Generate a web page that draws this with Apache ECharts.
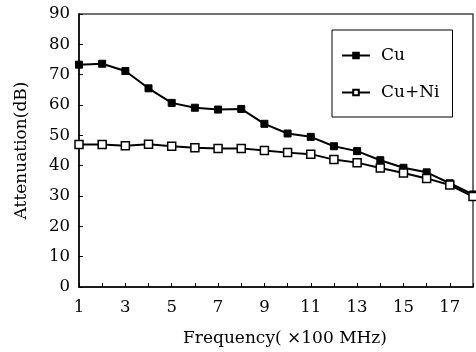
<!DOCTYPE html>
<html><head><meta charset="utf-8">
<script src="https://cdn.jsdelivr.net/npm/echarts@6/dist/echarts.min.js"></script>
<style>html,body{margin:0;padding:0;background:#fff}#c{width:476px;height:352px}</style>
</head><body><div id="c"></div>
<script>
const freq = [1,2,3,4,5,6,7,8,9,10,11,12,13,14,15,16,17,18];
const cu   = [73.3,73.6,71.2,65.5,60.7,59.1,58.5,58.7,53.8,50.6,49.5,46.4,44.8,41.8,39.3,37.8,34.2,30.5];
const cuNi = [47.0,47.0,46.6,47.1,46.4,45.9,45.7,45.7,45.0,44.3,43.8,42.0,41.0,39.2,37.6,35.8,33.6,29.8];
const xTickLabels = [1,3,5,7,9,11,13,15,17];
const seriesNames = ['Cu','Cu+Ni'];

const font = '"DejaVu Serif", "Liberation Serif", serif';
const chart = echarts.init(document.getElementById('c'), null, {renderer:'canvas'});
chart.setOption({
  animation:false,
  backgroundColor:'#fff',
  grid:{left:79, top:14, width:399.5, height:275.5, show:true, borderColor:'#444', borderWidth:1.5},
  legend:{
    orient:'vertical', left:332, top:30, padding:[17,13,16,9],
    backgroundColor:'#fff',
    borderColor:'#000', borderWidth:1, itemGap:20, itemWidth:28, itemHeight:7,
    textStyle:{fontFamily:font, fontSize:17, color:'#000', padding:[0,0,0,6]},
    data:seriesNames
  },
  xAxis:{
    type:'value', min:1, max:18, interval:1,
    name:'Frequency( ×100 MHz)', nameLocation:'middle', nameGap:43,
    nameTextStyle:{fontFamily:font, fontSize:17, color:'#000', padding:[0,0,0,18]},
    axisLine:{lineStyle:{color:'#000', width:1.5}},
    axisTick:{inside:true, length:4, lineStyle:{color:'#000'}},
    axisLabel:{fontFamily:font, fontSize:16.5, color:'#000', margin:12,
      formatter:v=> xTickLabels.indexOf(v)>=0 ? String(v) : ''},
    splitLine:{show:false}
  },
  yAxis:{
    type:'value', min:0, max:90, interval:10,
    name:'Attenuation(dB)', nameLocation:'middle', nameGap:49,
    nameTextStyle:{fontFamily:font, fontSize:17, color:'#000'},
    axisLine:{show:true, lineStyle:{color:'#000', width:1.5}},
    axisTick:{show:true, inside:true, length:4, lineStyle:{color:'#000'}},
    axisLabel:{fontFamily:font, fontSize:16.5, color:'#000', margin:9},
    splitLine:{show:false}
  },
  series:[
    {name:seriesNames[0], type:'line', data:freq.map((f,i)=>[f,cu[i]]),
     symbol:'rect', symbolSize:7, lineStyle:{color:'#000', width:2},
     itemStyle:{color:'#000', borderColor:'#000', borderWidth:1}},
    {name:seriesNames[1], type:'line', data:freq.map((f,i)=>[f,cuNi[i]]),
     symbol:'rect', symbolSize:8, lineStyle:{color:'#000', width:2},
     itemStyle:{color:'#fff', borderColor:'#000', borderWidth:1.5}}
  ]
});
</script></body></html>
